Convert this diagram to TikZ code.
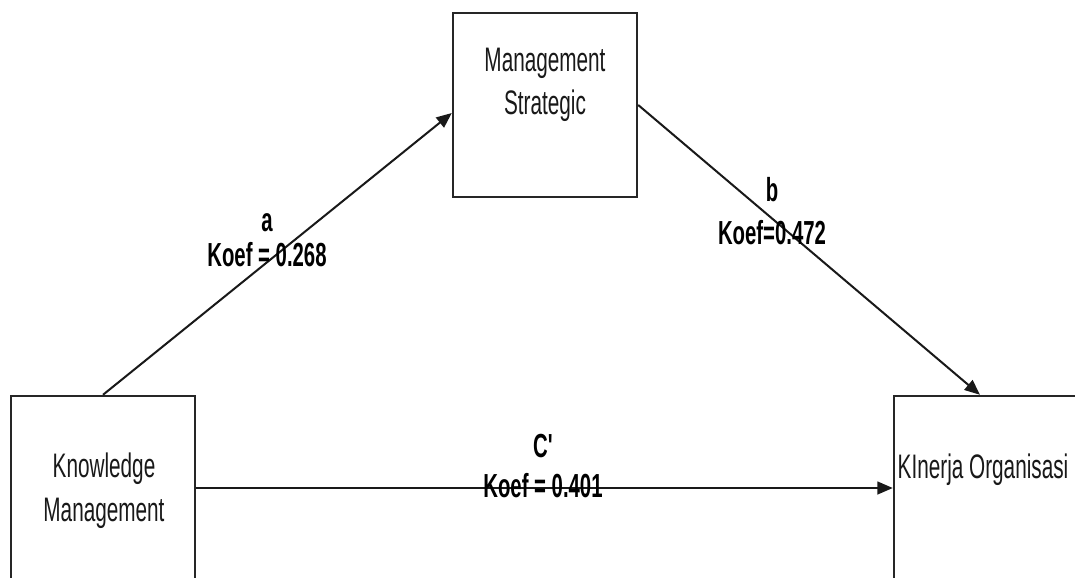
\documentclass[tikz,border=0pt]{standalone}
\usepackage{fontspec}
\setmainfont{Liberation Sans}
\newfontfamily\cnd[FakeStretch=0.61]{Liberation Sans}
\usetikzlibrary{arrows.meta,calc}
\tikzset{
  boxnode/.style={draw=black!85, line width=1.8pt, minimum width=138pt, minimum height=138pt, inner sep=0pt, fill=white},
  boxtext/.style={font=\cnd\fontsize{25.5pt}{30pt}\selectfont, text=black!90, align=center, inner sep=0pt},
  lbl/.style={font=\cnd\bfseries\fontsize{25pt}{30pt}\selectfont, text=black, align=center, inner sep=0pt},
  conn/.style={line width=1.5pt, draw=black!90, -{Triangle[length=11.5pt,width=9.5pt]}}
}
\begin{document}
\begin{tikzpicture}[x=0.75pt,y=-0.75pt]
\useasboundingbox (0,0) rectangle (1075,578);
\clip (0,0) rectangle (1075,578);
\fill[white] (0,0) rectangle (1075,578);
\node[boxnode] (km) at (103,488) {};
\node[boxnode] (ko) at (986,488) {};
\node[boxnode] (ms) at (545,105) {};
\node[boxtext, anchor=south] (kmt) at (104,529) {Knowledge\\[3pt]Management};
\node[boxtext, anchor=south] (mst) at (545,122) {Management\\[2.25pt]Strategic};
\node[boxtext, anchor=base] (kot) at (983,478) {KInerja Organisasi};
\draw[conn] (km.north) -- ($(ms.west)+(0,8)$);
\draw[conn] (ms.east) -- ($(ko.north)+(-6,0)$);
\draw[conn] (km.east) -- (ko.west);
\node[lbl, anchor=south] (la) at (267,267) {a\\[-3.75pt]Koef = 0.268};
\node[lbl, anchor=south] (lb) at (772,245) {b\\[2.25pt]Koef=0.472};
\node[lbl, anchor=south] (lc) at (543,498) {C'\\Koef = 0.401};
\end{tikzpicture}
\end{document}
